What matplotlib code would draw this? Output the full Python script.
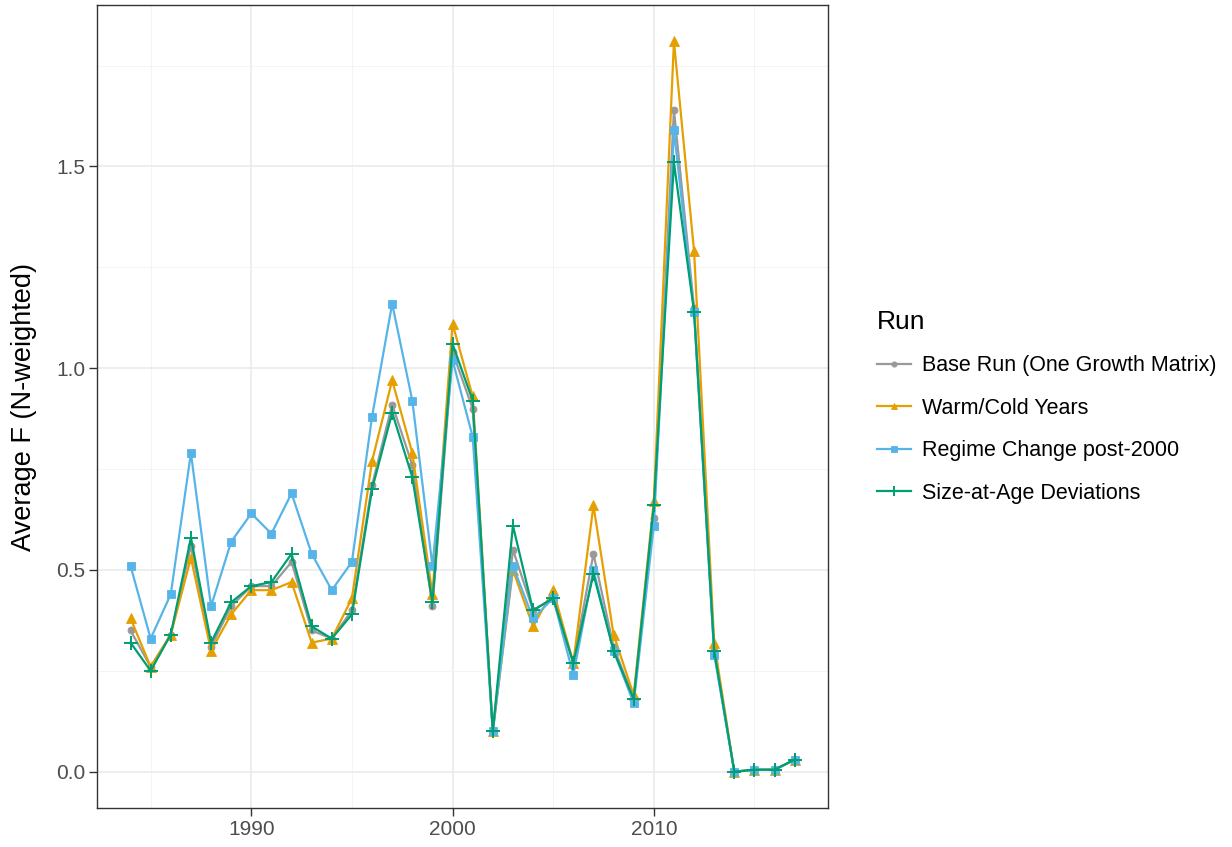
import numpy as np
import matplotlib.pyplot as plt
from matplotlib.ticker import MultipleLocator

years = list(range(1984, 2018))

base_run = [0.35, 0.26, 0.34, 0.56, 0.31, 0.41, 0.46, 0.46, 0.52, 0.35,
            0.33, 0.40, 0.71, 0.91, 0.76, 0.41, 1.04, 0.90, 0.10, 0.55,
            0.40, 0.43, 0.27, 0.54, 0.31, 0.18, 0.63, 1.64, 1.15, 0.30,
            0.00, 0.005, 0.005, 0.03]
warm_cold = [0.38, 0.26, 0.34, 0.53, 0.30, 0.39, 0.45, 0.45, 0.47, 0.32,
             0.33, 0.43, 0.77, 0.97, 0.79, 0.44, 1.11, 0.93, 0.10, 0.50,
             0.36, 0.45, 0.27, 0.66, 0.34, 0.19, 0.67, 1.81, 1.29, 0.32,
             0.00, 0.005, 0.005, 0.03]
regime = [0.51, 0.33, 0.44, 0.79, 0.41, 0.57, 0.64, 0.59, 0.69, 0.54,
          0.45, 0.52, 0.88, 1.16, 0.92, 0.51, 1.02, 0.83, 0.10, 0.51,
          0.38, 0.43, 0.24, 0.50, 0.30, 0.17, 0.61, 1.59, 1.14, 0.29,
          0.00, 0.005, 0.005, 0.03]
size_at_age = [0.32, 0.25, 0.34, 0.58, 0.32, 0.42, 0.46, 0.47, 0.54, 0.36,
               0.33, 0.39, 0.70, 0.89, 0.73, 0.42, 1.06, 0.92, 0.10, 0.61,
               0.40, 0.43, 0.27, 0.49, 0.30, 0.18, 0.66, 1.51, 1.14, 0.30,
               0.00, 0.005, 0.005, 0.03]

run_names = ['Base Run (One Growth Matrix)', 'Warm/Cold Years',
             'Regime Change post-2000', 'Size-at-Age Deviations']
run_values = [base_run, warm_cold, regime, size_at_age]
run_colors = ['#999999', '#E69F00', '#56B4E9', '#009E73']
run_markers = ['o', '^', 's', '+']
marker_sizes = [5, 6.5, 5.5, 10]

plt.rcParams['font.family'] = ['Liberation Sans', 'DejaVu Sans']

fig = plt.figure(figsize=(12.32, 8.47), dpi=100)
ax = fig.add_axes([0.079, 0.046, 0.593, 0.948])

for name, vals, col, mk, ms in zip(run_names, run_values, run_colors, run_markers, marker_sizes):
    ax.plot(years, vals, color=col, marker=mk, markersize=ms, linewidth=1.6,
            markeredgewidth=1.4 if mk == '+' else 0.6, label=name)

ax.set_xlim(1982.35, 2018.65)
ax.set_ylim(-0.09, 1.90)
ax.xaxis.set_major_locator(MultipleLocator(10))
ax.xaxis.set_minor_locator(MultipleLocator(5))
ax.yaxis.set_major_locator(MultipleLocator(0.5))
ax.yaxis.set_minor_locator(MultipleLocator(0.25))
ax.yaxis.set_major_formatter(plt.FuncFormatter(lambda v, p: f'{v:.1f}'))

ax.grid(which='major', color='#EBEBEB', linewidth=1.2)
ax.grid(which='minor', color='#F4F4F4', linewidth=0.7)
ax.set_axisbelow(True)
for sp in ax.spines.values():
    sp.set_color('#333333')
    sp.set_linewidth(1.0)
ax.tick_params(which='major', colors='#333333', labelcolor='#4D4D4D',
               labelsize=15, length=5.5, width=1.0, pad=3)
ax.tick_params(which='minor', length=0)

ax.set_ylabel('Average F (N-weighted)', fontsize=19.5, labelpad=14)

handles, labels = ax.get_legend_handles_labels()
leg = fig.legend(handles, labels, loc='upper left',
                 bbox_to_anchor=(0.696, 0.657), frameon=False, fontsize=15.5,
                 title='Run', title_fontsize=19, handlelength=1.6,
                 handletextpad=0.5, labelspacing=1.0, alignment='left',
                 markerscale=0.75)

fig.savefig('out.png', dpi=100)
